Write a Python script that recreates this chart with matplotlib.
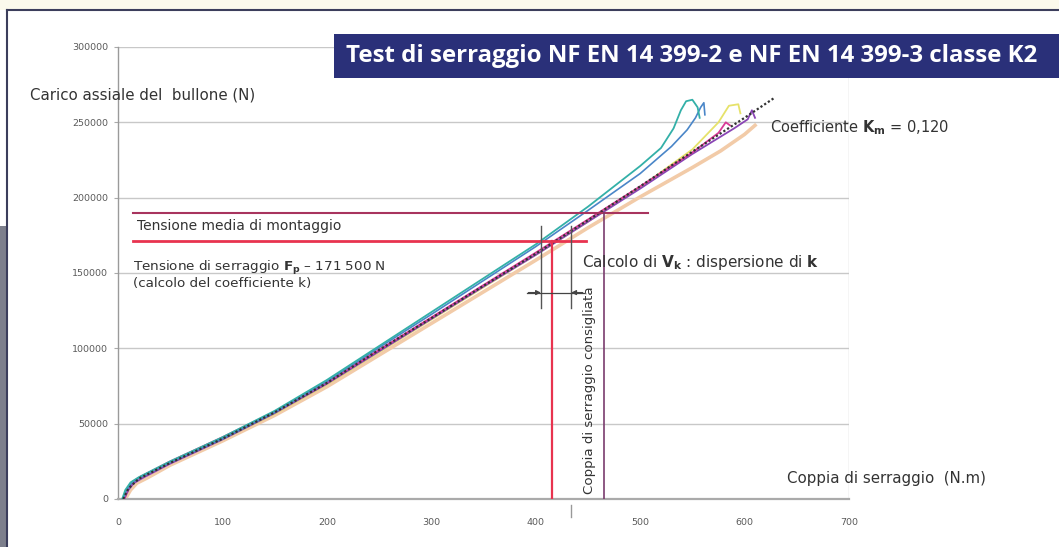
import matplotlib
matplotlib.use("Agg")
import matplotlib.pyplot as plt
from matplotlib.patches import Rectangle
from matplotlib.lines import Line2D

W, H = 1059, 547

# ---------------- data ----------------
x_ticks = [0, 100, 200, 300, 400, 500, 600, 700]
y_ticks = [0, 50000, 100000, 150000, 200000, 250000, 300000]

mean_T = [5, 10, 20, 50, 100, 150, 200, 250, 300, 350, 400, 450, 500, 550, 600, 628]
mean_F = [0, 7000, 13500, 24000, 40000, 57500, 77000, 99000, 120000, 141500, 162800, 185000, 207500, 230500, 253000, 266000]

teal_T = [4, 7, 12, 20, 50, 100, 150, 200, 250, 300, 350, 400, 450, 500, 520, 532, 539, 544, 550, 555, 557]
teal_F = [0, 6000, 11000, 14500, 25000, 41000, 58500, 79000, 101500, 124000, 146500, 169000, 194000, 221000, 233000, 246000, 258000, 264000, 265000, 260000, 253000]

blue_T = [5, 8, 13, 20, 50, 100, 150, 200, 250, 300, 350, 400, 450, 500, 530, 545, 553, 558, 561, 562]
blue_F = [0, 5500, 10500, 14000, 24500, 40000, 57500, 78000, 100500, 122500, 145000, 167500, 191500, 216000, 234000, 245000, 253000, 260000, 263000, 255000]

magenta_T = [6, 9, 14, 22, 50, 100, 150, 200, 250, 300, 350, 400, 450, 500, 550, 575, 582, 586]
magenta_F = [0, 6000, 11500, 15000, 25000, 41000, 58000, 77500, 99000, 120500, 142000, 163500, 185500, 207500, 230000, 243000, 250000, 248000]

purple_T = [6, 10, 15, 25, 50, 100, 150, 200, 250, 300, 350, 400, 450, 500, 550, 590, 603, 607, 610]
purple_F = [0, 6000, 10500, 14500, 23500, 39500, 57000, 76500, 98000, 119500, 141000, 162000, 184000, 206000, 229000, 246000, 252000, 258000, 253000]

yellow_T = [5, 9, 14, 22, 50, 100, 150, 200, 250, 300, 350, 400, 450, 500, 550, 575, 585, 594, 596]
yellow_F = [0, 6500, 11000, 14500, 24000, 39500, 56500, 76000, 97500, 119000, 140500, 162000, 184000, 207000, 232000, 250000, 261000, 262000, 256000]

peach_T = [7, 12, 18, 28, 50, 100, 150, 200, 250, 300, 350, 400, 450, 500, 550, 577, 600, 610]
peach_F = [0, 6000, 10500, 14000, 22500, 38500, 55500, 74500, 95500, 116500, 137500, 158500, 180000, 200500, 220000, 231000, 242000, 248000]

F_mount = 190000     # tensione media di montaggio
F_p = 171500         # tensione di serraggio
T_p = 416            # coppia at F_p
T_cons = 465         # coppia di serraggio consigliata
T_vk_lo, T_vk_hi = 405, 434
F_vk_lo, F_vk_hi = 127000, 181000
F_arrow = 137000

# ---------------- figure ----------------
fig = plt.figure(figsize=(W / 100, H / 100), dpi=100)
fig.patch.set_facecolor("white")

def fx(x):
    return x / W

def fy(y):
    return 1 - y / H

# background decorations (frame, cream band, grey side block)
fig.patches.append(Rectangle((0, fy(10)), 1, 10 / H, transform=fig.transFigure,
                             facecolor="#fbf9ec", edgecolor="none", zorder=0))
fig.patches.append(Rectangle((0, 0), fx(7), fy(226), transform=fig.transFigure,
                             facecolor="#7d7f8c", edgecolor="none", zorder=0))
fig.lines.append(Line2D([fx(7), 1], [fy(10), fy(10)], transform=fig.transFigure,
                        color="#3c3e5c", lw=1.5))
fig.lines.append(Line2D([fx(7), fx(7)], [0, fy(10)], transform=fig.transFigure,
                        color="#3c3e5c", lw=1.5))

ax = fig.add_axes([fx(118), fy(499), fx(849) - fx(118), (499 - 47) / H])
ax.set_xlim(0, 700)
ax.set_ylim(0, 300000)
ax.set_facecolor("none")

for s in ["top", "right"]:
    ax.spines[s].set_visible(False)
ax.spines["left"].set_color("#9a9a9a")
ax.spines["bottom"].set_color("#aaaaaa")
ax.spines["bottom"].set_linewidth(1.6)
ax.spines["left"].set_linewidth(1.0)

ax.set_xticks(x_ticks)
ax.set_yticks(y_ticks)
ax.set_xticklabels([str(v) for v in x_ticks])
ax.set_yticklabels([str(v) for v in y_ticks])
ax.tick_params(axis="both", labelsize=6.8, labelcolor="#5a5a5a", color="#aaaaaa",
               length=3)
ax.tick_params(axis="x", length=0, pad=14)
ax.tick_params(axis="y", pad=4)

for v in y_ticks[1:]:
    ax.axhline(v, color="#c8c8c8", lw=1.0, zorder=1)
ax.axvline(700, color="#d0d0d0", lw=1.0, zorder=1)

# curves
ax.plot(peach_T, peach_F, color="#f2cba8", lw=2.6, zorder=2)
ax.plot(yellow_T, yellow_F, color="#e6e26a", lw=1.3, zorder=3)
ax.plot(purple_T, purple_F, color="#8a45b5", lw=1.3, zorder=3)
ax.plot(magenta_T, magenta_F, color="#d83a96", lw=1.3, zorder=3)
ax.plot(blue_T, blue_F, color="#4a86c8", lw=1.2, zorder=3)
ax.plot(teal_T, teal_F, color="#33b0a8", lw=1.3, zorder=3)
ax.plot(mean_T, mean_F, color="#333333", lw=1.6, ls=(0, (1, 1)), zorder=4)

# reference lines
ax.plot([14, 508], [F_mount, F_mount], color="#a8345e", lw=1.5, zorder=5)
ax.plot([14, 448], [F_p, F_p], color="#e8334f", lw=2.0, zorder=5)
ax.plot([T_p, T_p], [0, F_p], color="#e8334f", lw=1.6, zorder=5)
ax.plot([T_cons, T_cons], [0, F_mount], color="#7a3c6e", lw=1.2, zorder=5)
ax.plot([T_vk_lo, T_vk_lo], [F_vk_lo, F_vk_hi], color="#555555", lw=1.0, zorder=5)
ax.plot([T_vk_hi, T_vk_hi], [F_vk_lo, F_vk_hi], color="#555555", lw=1.0, zorder=5)
ax.plot([392, 446], [F_arrow, F_arrow], color="#444444", lw=0.9, zorder=5)
ax.annotate("", xy=(T_vk_lo, F_arrow), xytext=(393, F_arrow),
            arrowprops=dict(arrowstyle="-|>", color="#444444", lw=0.9,
                            mutation_scale=7, shrinkA=0, shrinkB=0))
ax.annotate("", xy=(T_vk_hi, F_arrow), xytext=(445, F_arrow),
            arrowprops=dict(arrowstyle="-|>", color="#444444", lw=0.9,
                            mutation_scale=7, shrinkA=0, shrinkB=0))
ax.plot([T_vk_hi, T_vk_hi], [-4000, -12000], color="#999999", lw=1.0, clip_on=False)

# texts
txt = "#333333"
fig.text(fx(30), fy(95), "Carico assiale del  bullone (N)", fontsize=10.8, color=txt,
         va="center", ha="left")
fig.text(fx(137), fy(226), "Tensione media di montaggio", fontsize=10, color=txt,
         va="center", ha="left")
fig.text(fx(133), fy(268), r"Tensione di serraggio $\mathbf{F_p}$ – 171 500 N",
         fontsize=9.7, color=txt, va="center", ha="left")
fig.text(fx(133), fy(283), "(calcolo del coefficiente k)", fontsize=9.7, color=txt,
         va="center", ha="left")
fig.text(fx(582), fy(263), r"Calcolo di $\mathbf{V_k}$ : dispersione di $\mathbf{k}$",
         fontsize=11, color=txt, va="center", ha="left")
fig.text(fx(770), fy(128), r"Coefficiente $\mathbf{K_m}$ = 0,120", fontsize=10.5,
         color=txt, va="center", ha="left")
fig.text(fx(590), fy(390), "Coppia di serraggio consigliata", fontsize=9.6,
         color=txt, va="center", ha="center", rotation=90)
fig.text(fx(787), fy(479), "Coppia di serraggio  (N.m)", fontsize=10.8, color=txt,
         va="center", ha="left")

# title box
fig.patches.append(Rectangle((fx(334), fy(78)), 1 - fx(334), (78 - 34) / H,
                             transform=fig.transFigure, facecolor="#2a3079",
                             edgecolor="none", zorder=6))
fig.text(fx(346), fy(56), "Test di serraggio NF EN 14 399-2 e NF EN 14 399-3 classe K2",
         fontsize=17.3, fontweight="bold", color="white", va="center", ha="left",
         family="Open Sans", zorder=7)

fig.savefig("out.png", dpi=100)
